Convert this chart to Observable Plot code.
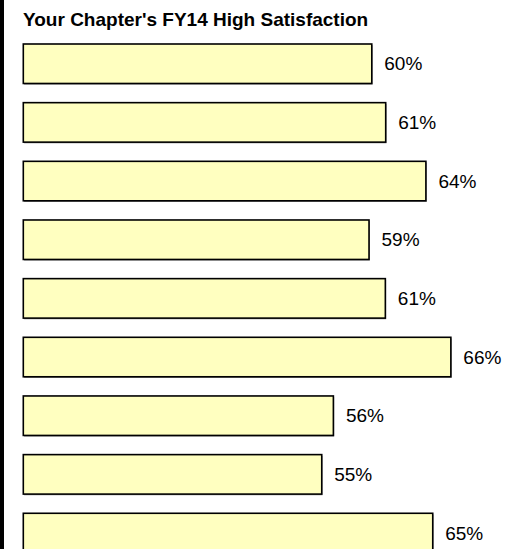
<!DOCTYPE html>
<html>
<head>
<meta charset="utf-8">
<script src="https://cdn.jsdelivr.net/npm/d3@7"></script>
<script src="https://cdn.jsdelivr.net/npm/@observablehq/plot@0.6"></script>
<style>
  html, body { margin: 0; padding: 0; background: #fff; }
  body { position: relative; width: 516px; height: 549px; overflow: hidden; font-family: Arial, "Liberation Sans", sans-serif; }
  #edge { position: absolute; left: 0; top: 0; width: 4px; height: 549px; background: #000; }
  #title { padding: 9px 0 0 23px; height: 22px; line-height: 22px; font-size: 19px; font-weight: bold; color: #000; white-space: nowrap; }
  #chart svg { display: block; overflow: visible; }
</style>
</head>
<body>
<div id="edge"></div>
<div id="title">Your Chapter's FY14 High Satisfaction</div>
<div id="chart"></div>
<script>
// Data
const categories = ["1", "2", "3", "4", "5", "6", "7", "8", "9"];
const values = [59.57, 60.73, 64.08, 59.34, 60.70, 66.16, 56.37, 55.40, 64.65];
const labels = ["60%", "61%", "64%", "59%", "61%", "66%", "56%", "55%", "65%"];
const baseline = 30.53;
const axisMax = 70;

const data = categories.map((c, i) => ({category: c, value: values[i], label: labels[i]}));

const chart = Plot.plot({
  width: 516,
  height: 518,
  marginLeft: 0,
  marginRight: 0,
  marginTop: 0,
  marginBottom: 0,
  style: {fontFamily: "Arial, 'Liberation Sans', sans-serif", background: "transparent", overflow: "visible"},
  x: {domain: [baseline, axisMax], range: [23.3, 23.3 + 12 * (axisMax - baseline)], axis: null},
  y: {domain: categories, range: [13, 13 + 58.66 * (9 - 0.327)], paddingInner: 0.327, paddingOuter: 0, align: 0, round: false, axis: null},
  marks: [
    Plot.barX(data, {x1: () => baseline, x2: "value", y: "category", fill: "#9a9a9a", dx: 0.8, dy: 1.2}),
    Plot.barX(data, {x1: () => baseline, x2: "value", y: "category", fill: "#ffffc0", stroke: "#000", strokeWidth: 1.6}),
    Plot.text(data, {x: "value", y: "category", text: "label", dx: 12, textAnchor: "start", fontSize: 19, fill: "#000"})
  ]
});
document.getElementById("chart").appendChild(chart);
</script>
</body>
</html>
